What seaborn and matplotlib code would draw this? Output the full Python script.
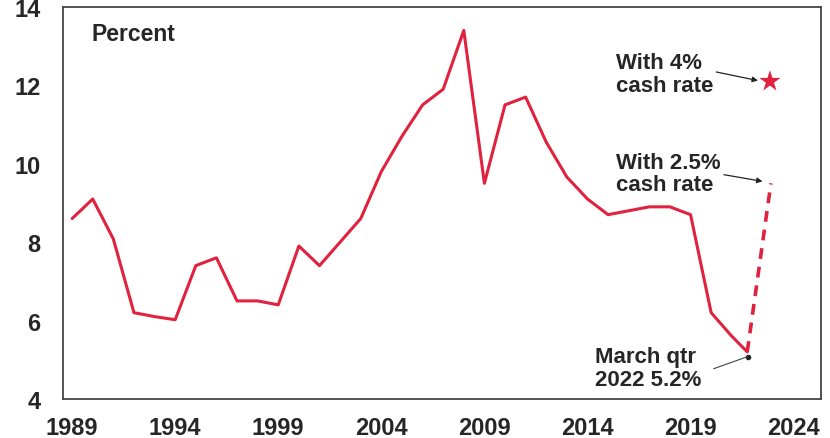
import numpy as np
import pandas as pd
import matplotlib
matplotlib.use('Agg')
import matplotlib.pyplot as plt
import matplotlib.transforms as mtransforms
import seaborn as sns

# annual series (plotted mid-year), percent
years = list(range(1989, 2022))
values = [8.6, 9.1, 8.08, 6.2, 6.1, 6.02, 7.4, 7.6, 6.5, 6.5, 6.4,
          7.9, 7.4, 8.0, 8.6, 9.8, 10.7, 11.5, 11.9, 13.4, 9.5,
          11.5, 11.7, 10.55, 9.66, 9.1, 8.7, 8.8, 8.9, 8.9, 8.7,
          6.2, 5.6]
last_x, last_val = 2022.2, 5.2          # March qtr 2022
proj_x = 2023.3
proj_25 = 9.5                            # with 2.5% cash rate
proj_4 = 12.1                            # with 4% cash rate
x_ticks = [1989, 1994, 1999, 2004, 2009, 2014, 2019, 2024]
y_ticks = [4, 6, 8, 10, 12, 14]

sns.set_style('white')
plt.rcParams['font.family'] = ['Liberation Sans', 'DejaVu Sans']
plt.rcParams['font.weight'] = 'bold'

red = '#e0223f'

df = pd.DataFrame({'x': [y + 0.45 for y in years] + [last_x], 'v': values + [last_val]})
dash = pd.DataFrame({'x': [last_x, proj_x + 0.05], 'v': [last_val, proj_25]})
star = pd.DataFrame({'x': [proj_x], 'v': [proj_4]})

fig = plt.figure(figsize=(8.3, 4.39), dpi=100)
ax = fig.add_axes([0.0757, 0.089, 0.914, 0.893])

sns.lineplot(data=df, x='x', y='v', color=red, linewidth=2.2, ax=ax)
sns.lineplot(data=dash, x='x', y='v', color=red, linewidth=2.6, ax=ax)
ax.lines[-1].set_linestyle((0, (3, 2.2)))
sns.scatterplot(data=star, x='x', y='v', color=red, marker='*', s=260,
                edgecolor='none', ax=ax)

ax.set_xlim(1989, 2025.8)
ax.set_ylim(4, 14)
ax.set_xticks(x_ticks)
ax.set_yticks(y_ticks)
ax.tick_params(axis='both', direction='out', length=6, width=1.2,
               color='#555555', labelsize=17)
ax.tick_params(axis='x', pad=6)
ax.tick_params(axis='y', pad=10)
shift = mtransforms.ScaledTranslation(0.09, 0, fig.dpi_scale_trans)
for lab in ax.get_xticklabels():
    lab.set_fontweight('bold')
    lab.set_transform(lab.get_transform() + shift)
for lab in ax.get_yticklabels():
    lab.set_fontweight('bold')
ax.set_xlabel('')
ax.set_ylabel('')
for sp in ax.spines.values():
    sp.set_visible(True)
    sp.set_color('#444444')
    sp.set_linewidth(1.3)

ax.text(0.038, 0.932, 'Percent', transform=ax.transAxes, fontsize=16.5,
        fontweight='bold', ha='left', va='center')

txt = dict(fontsize=16, fontweight='bold', ha='left', va='center', linespacing=1.12)
ax.text(2015.85, 12.28, 'With 4%\ncash rate', **txt)
ax.text(2015.85, 9.75, 'With 2.5%\ncash rate', **txt)
ax.text(2014.8, 4.78, 'March qtr\n2022 5.2%', **txt)

arrow = dict(arrowstyle='-|>', color='#222222', lw=0.9, mutation_scale=8,
             shrinkA=0, shrinkB=0)
ax.annotate('', xy=(2022.72, 12.12), xytext=(2020.7, 12.34), arrowprops=arrow)
ax.annotate('', xy=(2022.94, 9.55), xytext=(2021.07, 9.72), arrowprops=arrow)
ax.annotate('', xy=(2022.22, 5.08), xytext=(2020.57, 4.77),
            arrowprops=dict(arrowstyle='-', color='#444444', lw=0.8,
                            shrinkA=0, shrinkB=0))
ax.plot([2022.22], [5.08], marker='o', markersize=3, color='#222222')

fig.savefig('out.png', dpi=100)
